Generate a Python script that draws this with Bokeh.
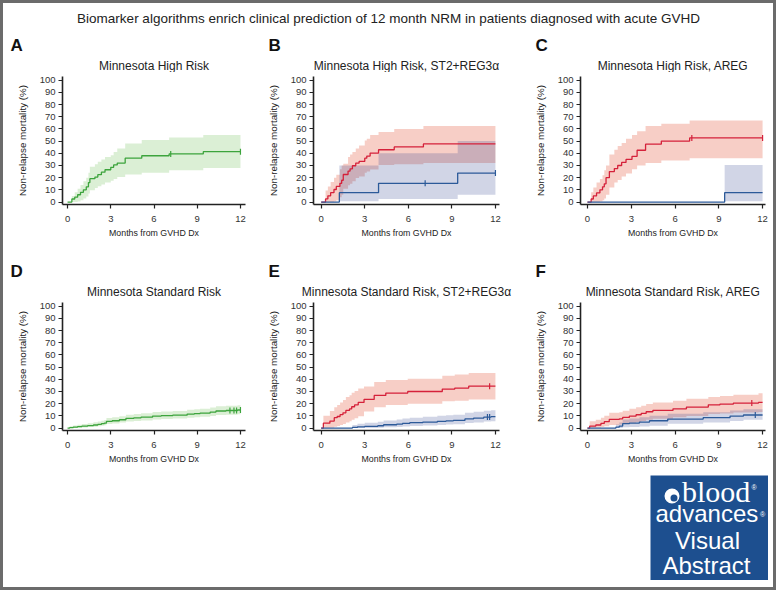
import numpy as np
from bokeh.plotting import figure
from bokeh.layouts import column, row
from bokeh.models import Range1d, FixedTicker, Label, Spacer, BoxAnnotation
from bokeh.embed import file_html
from bokeh.resources import INLINE

# ---------------- text ----------------
main_title = "Biomarker algorithms enrich clinical prediction of 12 month NRM in patients diagnosed with acute GVHD"
panel_letters = ["A", "B", "C", "D", "E", "F"]
panel_titles = ["Minnesota High Risk", "Minnesota High Risk, ST2+REG3\u03b1", "Minnesota High Risk, AREG",
                "Minnesota Standard Risk", "Minnesota Standard Risk, ST2+REG3\u03b1", "Minnesota Standard Risk, AREG"]
x_ticks = [0, 3, 6, 9, 12]
y_ticks = [0, 10, 20, 30, 40, 50, 60, 70, 80, 90, 100]
x_label = "Months from GVHD Dx"
y_label = "Non-relapse mortality (%)"

# ---------------- data (months, %) ----------------
# A: Minnesota High Risk (green)
A_t = [0, 0.3, 0.5, 0.7, 0.9, 1.1, 1.3, 1.45, 1.55, 1.9, 2.1, 2.35, 2.6, 3.0, 3.2, 3.45, 4.0, 5.15, 7.05, 9.42, 12]
A_v = [0, 2.5, 4.0, 6.0, 8.0, 10.0, 12.5, 16.0, 19.2, 20.5, 22.5, 24.5, 26.5, 28.5, 30.5, 32.0, 36.0, 38.0, 39.5, 41.3, 41.3]
A_hi = [0, 5, 8, 11, 14, 17, 20, 24, 29, 31, 33, 35, 37, 38.5, 41, 44, 48, 51, 53, 55, 55]
A_lo = [0, 0, 0, 0.5, 1.5, 3, 4.5, 7, 9.6, 11.5, 13, 14.5, 16, 17.5, 19, 20.5, 22.7, 24, 26, 28, 28]
A_cens = [7.16, 12]

# B: Minnesota High Risk, ST2+REG3a (red = high biomarker, blue = low)
B_r_t = [0, 0.3, 0.46, 0.65, 0.88, 1.04, 1.29, 1.41, 1.52, 1.85, 1.99, 2.15, 2.38, 2.61, 3.0, 3.14, 3.37, 3.95, 5.03, 7.04, 12]
B_r_v = [0, 2.6, 5.1, 7.7, 10.3, 12.8, 15.4, 17.9, 22.6, 25.4, 27.3, 29.8, 32.0, 33.3, 36.0, 37.7, 40.2, 42.9, 45.2, 47.7, 47.7]
B_r_hi = [0, 9.5, 12.8, 16.4, 20, 22.5, 27, 30, 31.5, 37, 39, 41, 44, 46.5, 50.5, 52, 55, 57.5, 60, 62.3, 62.3]
B_r_lo = [0, 0, 0, 0, 0.5, 1.5, 4, 6, 11, 13.7, 15, 17, 19.7, 21, 24, 25, 26.8, 30.5, 31, 32, 32]
B_r_cens = []
B_b_t = [0, 1.25, 3.95, 9.4, 12]
B_b_v = [0, 7.7, 15.4, 23.8, 23.8]
B_b_hi = [0, 30, 40, 50, 50]
B_b_lo = [0, 0.6, 2.5, 6, 6]
B_b_cens = [7.16, 12]

# C: Minnesota High Risk, AREG
C_r_t = [0, 0.25, 0.4, 0.62, 0.85, 1.03, 1.15, 1.27, 1.5, 1.84, 2.07, 2.34, 2.64, 3.05, 3.4, 3.98, 5.06, 7.0, 12]
C_r_v = [0, 2.5, 5.0, 7.5, 10.0, 12.5, 15.0, 20.0, 25.0, 27.5, 30.0, 32.5, 35.0, 37.5, 42.5, 47.5, 50.0, 52.6, 52.6]
C_r_hi = [0, 8, 12, 16, 19, 22, 26, 30, 39, 43, 46, 48.5, 52, 55, 58, 62.3, 64.2, 67, 67]
C_r_lo = [0, 0, 0, 0, 0.5, 1.5, 3, 6, 12, 16, 18, 21, 23.5, 27, 30, 32, 34, 36, 36]
C_r_cens = [7.15, 12]
C_b_t = [0, 9.4, 12]
C_b_v = [0, 7.7, 7.7]
C_b_hi = [0, 30.5, 30.5]
C_b_lo = [0, 0.6, 0.6]
C_b_cens = []

# D: Minnesota Standard Risk (green)
D_t = [0, 0.15, 0.4, 0.7, 1.0, 1.4, 1.8, 2.1, 2.35, 2.55, 2.7, 3.1, 3.6, 4.05, 4.6, 5.1, 5.9, 6.5, 7.3, 8.3, 8.8, 9.2, 9.9, 10.3, 11.0, 11.8, 12]
D_v = [0, 0.4, 0.8, 1.2, 1.6, 2.0, 2.5, 3.0, 3.6, 4.1, 5.5, 6.0, 6.8, 7.9, 8.4, 8.9, 9.8, 10.2, 10.6, 11.5, 11.9, 12.3, 13.1, 14.0, 14.4, 14.8, 14.8]
D_hi = [0, 1.5, 2.2, 2.8, 3.4, 4.0, 4.7, 5.3, 6.0, 6.6, 8.2, 8.8, 9.7, 11.0, 11.6, 12.1, 13.1, 13.6, 14.0, 15.0, 15.5, 15.9, 16.8, 17.8, 18.3, 18.8, 18.8]
D_lo = [0, 0, 0.1, 0.3, 0.5, 0.8, 1.1, 1.5, 1.9, 2.3, 3.4, 3.8, 4.5, 5.4, 5.8, 6.3, 7.0, 7.4, 7.8, 8.5, 8.9, 9.2, 9.9, 10.7, 11.0, 11.4, 11.4]
D_cens = [11.27, 11.55, 11.73, 12]

# E: Minnesota Standard Risk, ST2+REG3a
E_r_t = [0, 0.15, 0.6, 0.9, 1.1, 1.3, 1.5, 1.7, 1.95, 2.1, 2.3, 2.55, 2.95, 3.65, 4.45, 5.96, 8.34, 9.2, 10.16, 12]
E_r_v = [0, 4.0, 5.7, 8.5, 9.5, 11.0, 12.5, 14.5, 15.7, 17.5, 19.0, 21.0, 23.5, 26.8, 28.7, 30.0, 32.0, 32.8, 34.4, 34.4]
E_r_hi = [0, 10, 14, 17, 19, 21, 23, 25.5, 27, 29, 30.5, 32.5, 34, 37.7, 39.5, 40.5, 43, 44, 45.2, 45.2]
E_r_lo = [0, 0, 0.3, 1, 1.6, 2.5, 3.4, 4.6, 5.5, 6.8, 8, 9.6, 13.5, 17, 19, 20, 22, 22.5, 23.5, 23.5]
E_r_cens = [11.6]
E_b_t = [0, 2.15, 2.5, 3.0, 3.9, 4.3, 5.2, 5.6, 6.1, 7.0, 8.0, 8.6, 9.1, 9.9, 10.5, 11.2, 11.7, 12]
E_b_v = [0, 0.5, 1.0, 1.4, 1.9, 2.7, 3.2, 3.8, 4.4, 4.9, 5.5, 5.9, 6.3, 7.5, 8.2, 9.0, 9.3, 9.3]
E_b_hi = [0, 2.5, 3.5, 4.3, 5.2, 6.3, 7.0, 7.8, 8.5, 9.2, 10.0, 10.5, 11.0, 12.5, 13.3, 14.2, 14.6, 14.6]
E_b_lo = [0, 0, 0, 0.1, 0.3, 0.6, 0.9, 1.3, 1.7, 2.1, 2.6, 2.9, 3.2, 4.1, 4.6, 5.3, 5.6, 5.6]
E_b_cens = [11.45, 11.6]

# F: Minnesota Standard Risk, AREG
F_r_t = [0, 0.15, 0.57, 0.92, 1.15, 1.49, 2.18, 2.41, 2.87, 3.33, 3.68, 4.02, 4.48, 5.86, 6.78, 8.28, 9.08, 10.0, 11.72, 12]
F_r_v = [0, 1.6, 2.5, 3.8, 5.2, 7.1, 7.6, 8.7, 9.8, 10.9, 12.0, 13.4, 14.5, 15.8, 17.2, 19.1, 19.7, 20.5, 21.0, 21.0]
F_r_hi = [0, 5.5, 6.8, 8.5, 10.2, 12.5, 13, 14.3, 15.8, 17, 18.3, 19.8, 21, 22.5, 24, 25.5, 26.2, 27.3, 28.5, 28.5]
F_r_lo = [0, 0, 0.3, 0.8, 1.5, 2.6, 2.9, 3.6, 4.3, 5, 5.8, 6.8, 7.7, 8.8, 9.9, 11.5, 12, 12.7, 13.2, 13.2]
F_r_cens = [11.26]
F_b_t = [0, 1.95, 2.18, 2.41, 2.87, 3.56, 4.25, 5.5, 7.93, 9.77, 10.69, 12]
F_b_v = [0, 0.8, 1.6, 3.6, 4.1, 4.9, 6.0, 7.4, 8.5, 9.8, 10.7, 10.7]
F_b_hi = [0, 3, 4.5, 7, 7.8, 8.8, 10.2, 11.8, 13, 14.5, 15.5, 15.5]
F_b_lo = [0, 0, 0.1, 0.6, 0.9, 1.3, 1.9, 3.5, 4.5, 5.8, 6.8, 6.8]
F_b_cens = [11.5]

# ---------------- styling ----------------
STYLE = {
    "green": dict(line="#3da43d", band="#71bf57", alpha=0.25),
    "red": dict(line="#d5213a", band="#e8735c", alpha=0.35),
    "blue": dict(line="#2c5a99", band="#2f3f8f", alpha=0.22),
}
SANS = "'Liberation Sans', Arial, sans-serif"
PAD = 3  # width of the grey frame round the whole picture

# figure geometry per column (canvas x origin, borders, frame width, x range, letter x)
COLS = [dict(x0=0, left=62 - PAD, fw=183, right=13, xr=(-0.35, 12.35), lx=10 - PAD),
        dict(x0=258 - PAD, left=55, fw=186, right=19, xr=(-0.53, 12.28), lx=10),
        dict(x0=518 - PAD, left=62, fw=185, right=3, xr=(-0.48, 12.2), lx=17)]
ROWS = [dict(top=4, fh=128, bottom=52), dict(top=4, fh=128, bottom=45)]
HEADER_H = 42
INNER_W = 768

panels = [
    [("green", A_t, A_v, A_lo, A_hi, A_cens)],
    [("red", B_r_t, B_r_v, B_r_lo, B_r_hi, B_r_cens), ("blue", B_b_t, B_b_v, B_b_lo, B_b_hi, B_b_cens)],
    [("red", C_r_t, C_r_v, C_r_lo, C_r_hi, C_r_cens), ("blue", C_b_t, C_b_v, C_b_lo, C_b_hi, C_b_cens)],
    [("green", D_t, D_v, D_lo, D_hi, D_cens)],
    [("red", E_r_t, E_r_v, E_r_lo, E_r_hi, E_r_cens), ("blue", E_b_t, E_b_v, E_b_lo, E_b_hi, E_b_cens)],
    [("red", F_r_t, F_r_v, F_r_lo, F_r_hi, F_r_cens), ("blue", F_b_t, F_b_v, F_b_lo, F_b_hi, F_b_cens)],
]


def step_value(t, v, when):
    idx = np.searchsorted(np.asarray(t), np.asarray(when), side="right") - 1
    return list(np.asarray(v)[idx])


def make_panel(i):
    c = COLS[i % 3]
    r = ROWS[i // 3]
    p = figure(frame_width=c["fw"], frame_height=r["fh"],
               min_border_left=c["left"], min_border_right=c["right"],
               min_border_top=r["top"], min_border_bottom=r["bottom"],
               x_range=Range1d(*c["xr"]), y_range=Range1d(-2, 103),
               toolbar_location=None, output_backend="svg")
    p.outline_line_color = None
    p.xgrid.grid_line_color = None
    p.ygrid.grid_line_color = None
    p.xaxis.ticker = FixedTicker(ticks=x_ticks)
    p.yaxis.ticker = FixedTicker(ticks=y_ticks)
    for ax in (p.xaxis, p.yaxis):
        ax.axis_line_width = 1.6
        ax.axis_line_color = "#222222"
        ax.major_tick_line_color = "#222222"
        ax.major_tick_line_width = 1.2
        ax.major_tick_in = 0
        ax.major_tick_out = 4
        ax.minor_tick_in = 0
        ax.minor_tick_out = 0
        ax.major_label_text_font = SANS
        ax.major_label_text_font_size = "9.5px"
        ax.major_label_text_color = "#333333"
        ax.axis_label_text_font = SANS
        ax.axis_label_text_font_style = "normal"
        ax.axis_label_text_color = "#222222"
    p.xaxis.axis_label = x_label
    p.yaxis.axis_label = y_label
    p.xaxis.axis_label_text_font_size = "8.8px"
    p.yaxis.axis_label_text_font_size = "9.8px"
    p.xaxis.major_label_standoff = 7
    p.yaxis.major_label_standoff = 3
    p.xaxis.axis_label_standoff = 3
    p.yaxis.axis_label_standoff = 9

    series = panels[i]
    for key, t, v, lo, hi, cens in series:
        s = STYLE[key]
        p.varea_step(x=t, y1=lo, y2=hi, step_mode="after", fill_color=s["band"], fill_alpha=s["alpha"])
    for key, t, v, lo, hi, cens in series:
        s = STYLE[key]
        p.step(x=t, y=v, mode="after", line_color=s["line"], line_width=1.3)
        if cens:
            p.scatter(x=cens, y=step_value(t, v, cens), marker="dash", angle=np.pi / 2, size=6,
                      line_color=s["line"], line_width=1.2)
    return p


def blank(w, h, bg="#ffffff"):
    f = figure(width=w, height=h, x_range=Range1d(0, 1), y_range=Range1d(0, 1),
               toolbar_location=None, output_backend="svg", min_border=0)
    f.axis.visible = False
    f.grid.visible = False
    f.outline_line_color = None
    f.background_fill_color = bg
    f.border_fill_color = bg
    return f


def header(first):
    h = blank(INNER_W, HEADER_H)
    for j in range(3):
        c = COLS[j]
        k = first + j
        h.add_layout(Label(x=c["x0"] + c["lx"], y=27, x_units="screen", y_units="screen",
                           text=panel_letters[k], text_font=SANS, text_font_size="17px",
                           text_font_style="bold", text_color="#111111",
                           text_align="left", text_baseline="middle"))
        h.add_layout(Label(x=c["x0"] + c["left"] + c["fw"] / 2, y=7, x_units="screen", y_units="screen",
                           text=panel_titles[k], text_font=SANS, text_font_size="12px",
                           text_color="#222222", text_align="center", text_baseline="middle"))
    return h


top = blank(INNER_W, 30 - PAD)
top.add_layout(Label(x=388 - PAD, y=12, x_units="screen", y_units="screen", text=main_title,
                     text_font=SANS, text_font_size="13.5px", text_color="#222222",
                     text_align="center", text_baseline="middle"))

figs = [make_panel(i) for i in range(6)]

LOGO_BLUE = "#1d4f8f"
logo = blank(118, 105, LOGO_BLUE)
logo.add_layout(BoxAnnotation(left=14, right=29, bottom=77, top=92, left_units="screen", right_units="screen",
                              bottom_units="screen", top_units="screen", fill_color="white", fill_alpha=1,
                              line_color=None, border_radius=8))
logo.add_layout(BoxAnnotation(left=20, right=27, bottom=79, top=86, left_units="screen", right_units="screen",
                              bottom_units="screen", top_units="screen", fill_color=LOGO_BLUE, fill_alpha=1,
                              line_color=None, border_radius=4))
logo_texts = [
    ("blood", 31.5, 89, "'Liberation Serif', serif", "30px", "left"),
    ("\u00ae", 101, 93, SANS, "7px", "left"),
    ("advances", 5, 67, SANS, "24px", "left"),
    ("\u00ae", 109.5, 66, SANS, "7px", "left"),
    ("Visual", 57, 40.5, SANS, "24px", "center"),
    ("Abstract", 56, 15.5, SANS, "24px", "center"),
]
for txt, lx, ly, fnt, fs, al in logo_texts:
    logo.add_layout(Label(x=lx, y=ly, x_units="screen", y_units="screen", text=txt, text_font=fnt,
                          text_font_size=fs, text_color="white", text_align=al, text_baseline="middle"))

bottom = row(Spacer(width=650 - PAD, height=105), logo)
layout = column(top, header(0), row(*figs[:3]), header(3), row(*figs[3:]), bottom,
                width=776, height=590,
                styles={"border": "3px solid #6b6b6b", "box-sizing": "border-box", "background-color": "white"})

open("out.html", "w").write(file_html(layout, INLINE))
